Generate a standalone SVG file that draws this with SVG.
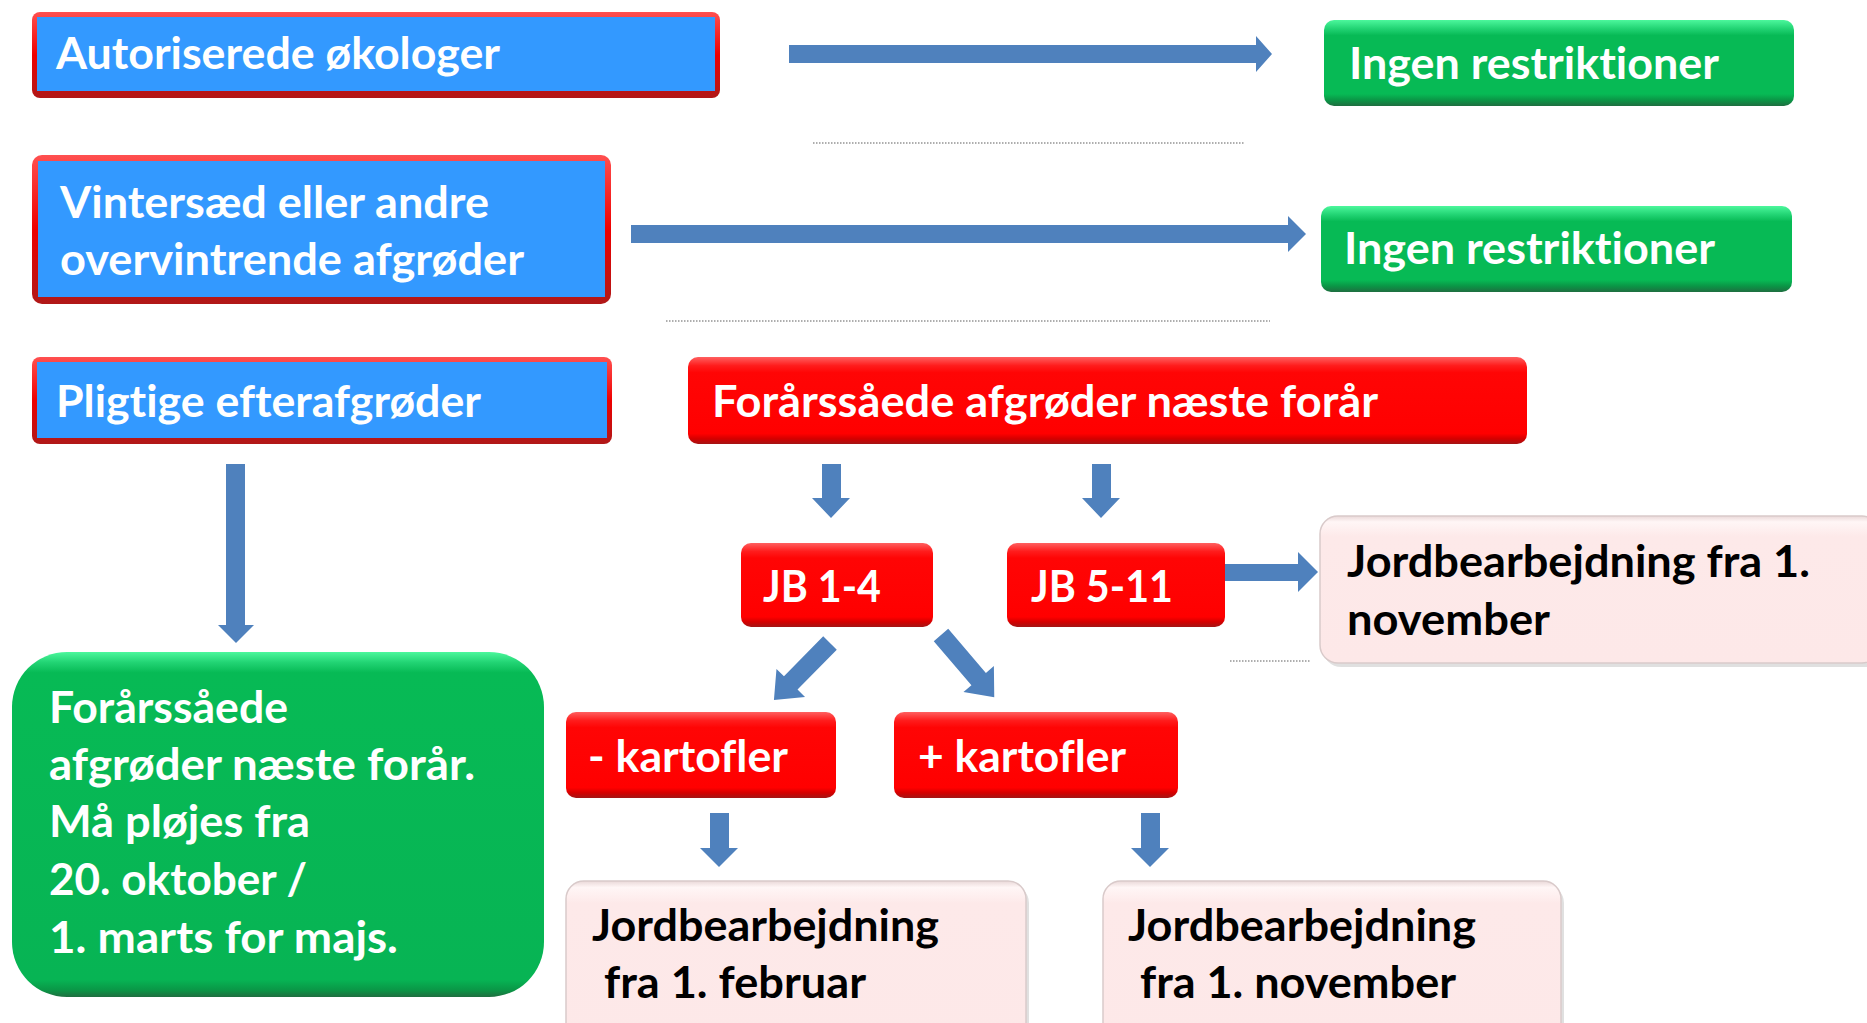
<svg xmlns="http://www.w3.org/2000/svg" width="1867" height="1023" viewBox="0 0 1867 1023">
<defs>
<linearGradient id="gRed" x1="0" y1="0" x2="0" y2="1">
<stop offset="0" stop-color="#FF6060"/><stop offset="0.1" stop-color="#FF1C1C"/><stop offset="0.18" stop-color="#FF0505"/><stop offset="0.88" stop-color="#FF0000"/><stop offset="0.94" stop-color="#D40000"/><stop offset="1" stop-color="#A31515"/>
</linearGradient>
<linearGradient id="gBorder" x1="0" y1="0" x2="0" y2="1">
<stop offset="0" stop-color="#FF5050"/><stop offset="0.5" stop-color="#EE0000"/><stop offset="1" stop-color="#B01818"/>
</linearGradient>
<linearGradient id="gGreen" x1="0" y1="0" x2="0" y2="1">
<stop offset="0" stop-color="#4CF79C"/><stop offset="0.1" stop-color="#22D474"/><stop offset="0.18" stop-color="#07BA55"/><stop offset="0.86" stop-color="#07BA55"/><stop offset="0.93" stop-color="#0A9646"/><stop offset="1" stop-color="#1F6E40"/>
</linearGradient>
<linearGradient id="gGreenBig" x1="0" y1="0" x2="0" y2="1">
<stop offset="0" stop-color="#4CF79C"/><stop offset="0.03" stop-color="#22D474"/><stop offset="0.06" stop-color="#07BA55"/><stop offset="0.95" stop-color="#07B454"/><stop offset="0.98" stop-color="#0A9646"/><stop offset="1" stop-color="#1F6E40"/>
</linearGradient>
<linearGradient id="gPink" x1="0" y1="0" x2="0" y2="1">
<stop offset="0" stop-color="#EAD8D8"/><stop offset="0.04" stop-color="#FFF6F6"/><stop offset="0.14" stop-color="#FDE9E9"/><stop offset="1" stop-color="#FDE8E8"/>
</linearGradient>
<style>
.w,.k{font-family:Lato,"Open Sans","Liberation Sans",sans-serif;font-weight:bold;font-size:44px;font-variant-ligatures:none;font-feature-settings:"liga" 0,"clig" 0,"dlig" 0,"calt" 0}
.w{fill:#FFFFFF}
.k{fill:#000000}
.arrow{fill:#4F81BD}
.dots{stroke:#9A9A9A;stroke-width:2;stroke-dasharray:1.5 1.5;fill:none;opacity:0.8}
.blue{fill:#3399FF}
.pink{fill:url(#gPink);stroke:#D9CACA;stroke-width:1.5}
.shadow{fill:#000;opacity:0.12}
</style>
</defs>
<rect width="1867" height="1023" fill="#FFFFFF"/>

<g id="connectors">
<path class="arrow" d="M789,45 L1256,45 L1256,36 L1272,54 L1256,72 L1256,63 L789,63 Z"/>
<path class="arrow" d="M631,225 L1288,225 L1288,216 L1306,234 L1288,252 L1288,243 L631,243 Z"/>
<path class="arrow" d="M226,464 L245,464 L245,625 L254,625 L236,643 L218,625 L226,625 Z"/>
<path class="arrow" d="M822,464 L841,464 L841,498 L850,498 L831,518 L812,498 L822,498 Z"/>
<path class="arrow" d="M1092,464 L1111,464 L1111,498 L1120,498 L1101,518 L1082,498 L1092,498 Z"/>
<path class="arrow" d="M1225,564 L1298,564 L1298,552 L1318,572 L1298,592 L1298,581 L1225,581 Z"/>
<path class="arrow" transform="translate(830,643) rotate(134.5)" d="M0,-9.5 L56,-9.5 L56,-20 L80,0 L56,20 L56,9.5 L0,9.5 Z"/>
<path class="arrow" transform="translate(941,635) rotate(49.5)" d="M0,-9.5 L58,-9.5 L58,-20 L82,0 L58,20 L58,9.5 L0,9.5 Z"/>
<path class="arrow" d="M710,813 L729,813 L729,848 L738,848 L719,867 L700,848 L710,848 Z"/>
<path class="arrow" d="M1141,813 L1160,813 L1160,848 L1169,848 L1150,867 L1131,848 L1141,848 Z"/>
<path class="dots" d="M813,143 L1244,143"/>
<path class="dots" d="M666,321 L1270,321"/>
<path class="dots" d="M1230,661 L1310,661"/>
</g>

<g id="n-autoriserede">
<rect x="32" y="12" width="688" height="86" rx="8" fill="url(#gBorder)"/>
<rect x="37" y="17" width="678" height="74" class="blue"/>
<text class="w" x="56" y="69" textLength="444" lengthAdjust="spacingAndGlyphs">Autoriserede økologer</text>
</g>

<g id="n-ingen1">
<rect x="1324" y="20" width="470" height="86" rx="10" fill="url(#gGreen)"/>
<text class="w" x="1349" y="79" textLength="370" lengthAdjust="spacingAndGlyphs">Ingen restriktioner</text>
</g>

<g id="n-vintersaed">
<rect x="32" y="155" width="579" height="149" rx="10" fill="url(#gBorder)"/>
<rect x="38" y="161" width="567" height="136" class="blue"/>
<text class="w" x="60" y="218" textLength="429" lengthAdjust="spacingAndGlyphs">Vintersæd eller andre</text>
<text class="w" x="60" y="275" textLength="464" lengthAdjust="spacingAndGlyphs">overvintrende afgrøder</text>
</g>

<g id="n-ingen2">
<rect x="1321" y="206" width="471" height="86" rx="10" fill="url(#gGreen)"/>
<text class="w" x="1344" y="264" textLength="371" lengthAdjust="spacingAndGlyphs">Ingen restriktioner</text>
</g>

<g id="n-pligtige">
<rect x="32" y="357" width="580" height="87" rx="8" fill="url(#gBorder)"/>
<rect x="37" y="362" width="570" height="76" class="blue"/>
<text class="w" x="56" y="417" textLength="425" lengthAdjust="spacingAndGlyphs">Pligtige efterafgrøder</text>
</g>

<g id="n-foraar">
<rect x="688" y="357" width="839" height="87" rx="10" fill="url(#gRed)"/>
<text class="w" x="712" y="417" textLength="666" lengthAdjust="spacingAndGlyphs">Forårssåede afgrøder næste forår</text>
</g>

<g id="n-jb14">
<rect x="741" y="543" width="192" height="84" rx="10" fill="url(#gRed)"/>
<text class="w" x="763" y="602" textLength="118" lengthAdjust="spacingAndGlyphs">JB 1-4</text>
</g>

<g id="n-jb511">
<rect x="1007" y="543" width="218" height="84" rx="10" fill="url(#gRed)"/>
<text class="w" x="1031" y="602" textLength="142" lengthAdjust="spacingAndGlyphs">JB 5-11</text>
</g>

<g id="n-jord-nov-right">
<rect x="1323" y="520" width="560" height="147" rx="18" class="shadow"/>
<rect x="1320" y="516" width="560" height="147" rx="18" class="pink"/>
<text class="k" x="1347" y="577" textLength="463" lengthAdjust="spacingAndGlyphs">Jordbearbejdning fra 1.</text>
<text class="k" x="1347" y="635" textLength="203" lengthAdjust="spacingAndGlyphs">november</text>
</g>

<g id="n-groen">
<rect x="12" y="652" width="532" height="345" rx="55" fill="url(#gGreenBig)"/>
<text class="w" x="49" y="723" textLength="239" lengthAdjust="spacingAndGlyphs">Forårssåede</text>
<text class="w" x="49" y="780" textLength="426" lengthAdjust="spacingAndGlyphs">afgrøder næste forår.</text>
<text class="w" x="49" y="837" textLength="261" lengthAdjust="spacingAndGlyphs">Må pløjes fra</text>
<text class="w" x="49" y="895" textLength="258" lengthAdjust="spacingAndGlyphs">20. oktober /</text>
<text class="w" x="49" y="953" textLength="349" lengthAdjust="spacingAndGlyphs">1. marts for majs.</text>
</g>

<g id="n-minus-kartofler">
<rect x="566" y="712" width="270" height="86" rx="10" fill="url(#gRed)"/>
<text class="w" x="588" y="772" textLength="200" lengthAdjust="spacingAndGlyphs">- kartofler</text>
</g>

<g id="n-plus-kartofler">
<rect x="894" y="712" width="284" height="86" rx="10" fill="url(#gRed)"/>
<text class="w" x="918" y="772" textLength="208" lengthAdjust="spacingAndGlyphs">+ kartofler</text>
</g>

<g id="n-jord-feb">
<rect x="569" y="885" width="460" height="160" rx="18" class="shadow"/>
<rect x="566" y="881" width="460" height="160" rx="18" class="pink"/>
<text class="k" x="592" y="941" textLength="347" lengthAdjust="spacingAndGlyphs">Jordbearbejdning</text>
<text class="k" x="604" y="998" textLength="262" lengthAdjust="spacingAndGlyphs">fra 1. februar</text>
</g>

<g id="n-jord-nov">
<rect x="1106" y="885" width="458" height="160" rx="18" class="shadow"/>
<rect x="1103" y="881" width="458" height="160" rx="18" class="pink"/>
<text class="k" x="1128" y="941" textLength="348" lengthAdjust="spacingAndGlyphs">Jordbearbejdning</text>
<text class="k" x="1140" y="998" textLength="316" lengthAdjust="spacingAndGlyphs">fra 1. november</text>
</g>
</svg>
